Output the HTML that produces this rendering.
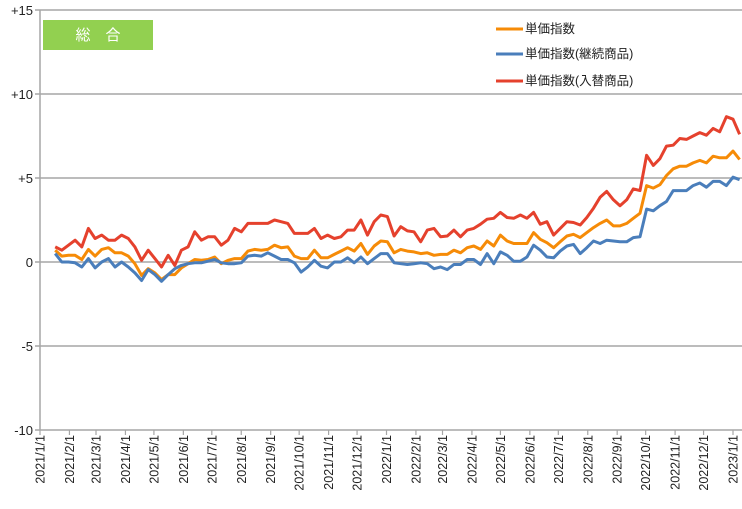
<!DOCTYPE html>
<html><head><meta charset="utf-8"><style>
html,body{margin:0;padding:0;background:#fff;}
svg{display:block;font-family:"Liberation Sans","Noto Sans CJK JP",sans-serif;}
</style></head><body>
<svg id="chart" width="742" height="509" viewBox="0 0 742 509">
<g id="grid"></g>
<g id="yaxis"></g>
<g id="xaxis"></g>
<g id="series"></g>
<rect x="43" y="20" width="110" height="30" fill="#92d050"/>
<text x="98" y="40" fill="#fff" font-size="15" text-anchor="middle">総　合</text>
<g>
<g><line x1="496" y1="29" x2="523" y2="29" stroke="#f68b07" stroke-width="3"/><text x="525" y="33" font-size="12.5" fill="#222">単価指数</text></g>
<g><line x1="496" y1="54" x2="523" y2="54" stroke="#4a7ebb" stroke-width="3"/><text x="525" y="58" font-size="12.5" fill="#222">単価指数(継続商品)</text></g>
<g><line x1="496" y1="81" x2="523" y2="81" stroke="#e5412d" stroke-width="3"/><text x="525" y="85" font-size="12.5" fill="#222">単価指数(入替商品)</text></g>
</g>
</svg>
<script>
const yTicks=[15,10,5,0,-5,-10];
const yTickLabels=["+15","+10","+5","0","-5","-10"];
const monthLabels=["2021/1/1","2021/2/1","2021/3/1","2021/4/1","2021/5/1","2021/6/1","2021/7/1","2021/8/1","2021/9/1","2021/10/1","2021/11/1","2021/12/1","2022/1/1","2022/2/1","2022/3/1","2022/4/1","2022/5/1","2022/6/1","2022/7/1","2022/8/1","2022/9/1","2022/10/1","2022/11/1","2022/12/1","2023/1/1"];
const firstWeek="2021-01-17";
const unitPrice=[0.7,0.35,0.4,0.4,0.15,0.75,0.35,0.75,0.85,0.55,0.55,0.35,-0.1,-0.8,-0.4,-0.65,-1.05,-0.75,-0.75,-0.35,-0.1,0.15,0.1,0.15,0.3,-0.1,0.1,0.2,0.2,0.65,0.75,0.7,0.75,1.0,0.85,0.9,0.35,0.2,0.2,0.7,0.25,0.25,0.45,0.65,0.85,0.65,1.1,0.45,0.95,1.25,1.2,
0.55,0.75,0.65,0.6,0.5,0.55,0.4,0.45,0.45,0.7,0.55,0.85,0.95,0.75,1.25,0.95,1.6,1.25,1.1,1.1,1.1,1.75,1.35,1.15,0.85,1.2,1.55,1.65,1.45,1.75,2.05,2.3,2.5,2.15,2.15,2.3,2.6,2.9,4.55,4.4,4.6,5.15,5.55,5.7,5.7,5.9,6.05,5.9,6.3,6.2,6.2,6.6,6.1];
const continuing=[0.5,0,0,-0.05,-0.3,0.2,-0.35,0,0.2,-0.3,0,-0.3,-0.65,-1.1,-0.45,-0.75,-1.15,-0.75,-0.4,-0.2,-0.1,-0.05,-0.05,0.05,0.15,-0.05,-0.1,-0.1,-0.05,0.35,0.4,0.35,0.55,0.35,0.15,0.15,-0.05,-0.6,-0.3,0.1,-0.25,-0.35,0,0,0.25,-0.05,0.3,-0.1,0.2,0.5,0.5,
-0.05,-0.1,-0.15,-0.1,-0.05,-0.1,-0.4,-0.3,-0.45,-0.15,-0.15,0.15,0.15,-0.15,0.5,-0.1,0.6,0.4,0.05,0.05,0.3,1.0,0.7,0.3,0.25,0.65,0.95,1.05,0.5,0.85,1.25,1.1,1.3,1.25,1.2,1.2,1.45,1.5,3.15,3.05,3.35,3.6,4.25,4.25,4.25,4.55,4.7,4.45,4.8,4.8,4.55,5.05,4.9];
const replacement=[0.9,0.7,1.0,1.3,0.9,2.0,1.4,1.6,1.3,1.3,1.6,1.4,0.9,0.1,0.7,0.2,-0.3,0.4,-0.2,0.7,0.9,1.8,1.3,1.5,1.5,1.0,1.3,2.0,1.8,2.3,2.3,2.3,2.3,2.5,2.4,2.3,1.7,1.7,1.7,2.0,1.4,1.6,1.4,1.5,1.9,1.9,2.5,1.6,2.4,2.8,2.7,
1.55,2.1,1.85,1.8,1.2,1.9,2.0,1.5,1.55,1.9,1.5,1.9,2.0,2.25,2.55,2.6,2.95,2.65,2.6,2.8,2.6,2.95,2.25,2.4,1.6,2.0,2.4,2.35,2.2,2.65,3.2,3.85,4.2,3.7,3.35,3.7,4.35,4.25,6.35,5.75,6.15,6.9,6.95,7.35,7.3,7.5,7.7,7.55,7.95,7.75,8.65,8.5,7.6];

const NS="http://www.w3.org/2000/svg";
const svg=document.getElementById('chart');
const X0=40,X1=733,Y0=10,Y1=430;
const d0=Date.UTC(2021,0,1),d1=Date.UTC(2023,0,1);
function xDate(t){return X0+(t-d0)/(d1-d0)*(X1-X0);}
function y(v){return Y1-(v+10)/25*(Y1-Y0);}
function mk(tag,attrs,parent){const e=document.createElementNS(NS,tag);for(const k in attrs)e.setAttribute(k,attrs[k]);parent.appendChild(e);return e;}
const grid=document.getElementById('grid'),ya=document.getElementById('yaxis'),xa=document.getElementById('xaxis'),sg=document.getElementById('series');
yTicks.forEach((v,i)=>{
  const l=mk('line',{x1:X0-5,x2:742,y1:y(v),y2:y(v),stroke:'#a6a6a6','stroke-width':1.5},grid);
  
  
  const t=mk('text',{x:X0-7,y:y(v)+5,'font-size':13,'text-anchor':'end',fill:'#222'},ya);
  t.textContent=yTickLabels[i];
  
  
});
const ax=mk('line',{x1:X0,x2:X0,y1:Y0,y2:Y1,stroke:'#a6a6a6','stroke-width':1.5},ya);


monthLabels.forEach((s,i)=>{
  const p=s.split('/');const t=Date.UTC(+p[0],+p[1]-1,1);const x=xDate(t);
  const tk=mk('line',{x1:x,x2:x,y1:Y1,y2:Y1+5,stroke:'#a6a6a6','stroke-width':1.2},xa);
  
  
  const tx=mk('text',{x:0,y:0,'font-size':12.5,'text-anchor':'end',fill:'#222',transform:`translate(${x+4.5},${Y1+5}) rotate(-90)`},xa);
  tx.textContent=s;
  
  
});
const fw=Date.parse(firstWeek+"T00:00:00Z");
function xi(i){return xDate(fw+i*7*86400000);}
[[unitPrice,'#f68b07','series-unit-price'],[continuing,'#4a7ebb','series-continuing'],[replacement,'#e5412d','series-replacement']].forEach(([arr,c,n])=>{
  const pts=arr.map((v,i)=>xi(i).toFixed(1)+','+y(v).toFixed(1)).join(' ');
  const pl=mk('polyline',{points:pts,fill:'none',stroke:c,'stroke-width':3,'stroke-linejoin':'round'},sg);
  
  
});
</script>
</body></html>
